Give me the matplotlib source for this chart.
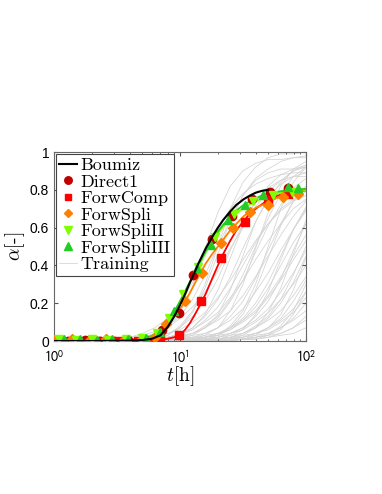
import matplotlib
matplotlib.use('Agg')
import matplotlib.pyplot as plt

plt.rcParams['font.family'] = 'Liberation Sans'
plt.rcParams['mathtext.fontset'] = 'cm'
plt.rcParams['xtick.direction'] = 'in'
plt.rcParams['ytick.direction'] = 'in'

# time grid of the simulated curves [h]
t_line = [1, 2, 3, 4, 5, 6, 7, 8, 9, 10, 11, 12, 13, 14, 16, 18, 20, 22, 25, 28, 32, 36, 40, 45, 50,
          60, 70, 80, 90, 100]

boumiz = [0, 0, 0.001, 0.002, 0.005, 0.012, 0.03, 0.075, 0.13, 0.19, 0.25, 0.31, 0.36, 0.41, 0.49,
          0.55, 0.60, 0.64, 0.685, 0.72, 0.75, 0.77, 0.785, 0.795, 0.80]
forwcomp = [0, 0, 0, 0, 0.001, 0.003, 0.006, 0.012, 0.02, 0.033, 0.06, 0.095, 0.135, 0.175, 0.25,
            0.33, 0.40, 0.46, 0.53, 0.585, 0.635, 0.675, 0.70, 0.725, 0.745, 0.77, 0.785, 0.793, 0.798, 0.80]
forwspli = [0.005, 0.005, 0.005, 0.006, 0.01, 0.02, 0.045, 0.09, 0.13, 0.17, 0.21, 0.255, 0.30, 0.34,
            0.41, 0.46, 0.50, 0.535, 0.585, 0.62, 0.66, 0.685, 0.705, 0.72, 0.735, 0.76, 0.775, 0.785,
            0.79, 0.795]
forwspli2 = [0.005, 0.005, 0.006, 0.008, 0.012, 0.025, 0.05, 0.10, 0.15, 0.21, 0.26, 0.31, 0.355,
             0.395, 0.47, 0.525, 0.57, 0.605, 0.645, 0.675, 0.705, 0.725, 0.74, 0.755, 0.765, 0.78,
             0.79, 0.795, 0.80, 0.80]
forwspli3 = [0.005, 0.005, 0.006, 0.008, 0.013, 0.028, 0.055, 0.105, 0.155, 0.21, 0.265, 0.315, 0.36,
             0.40, 0.475, 0.535, 0.58, 0.615, 0.655, 0.69, 0.72, 0.74, 0.755, 0.77, 0.78, 0.79, 0.797,
             0.80, 0.803, 0.805]

# measured / marker points
t_direct = [1.0, 1.3, 1.75, 2.3, 3.0, 3.9, 5.2, 7.2, 9.8, 12.7, 18.1, 25.7, 37.0, 52.0, 72.0]
a_direct = [0, 0, 0.005, 0, 0, 0.005, 0.01, 0.06, 0.15, 0.35, 0.54, 0.66, 0.75, 0.79, 0.81]
t_comp = [1.0, 1.5, 2.2, 3.2, 4.6, 6.9, 9.9, 14.7, 21.1, 32.7, 50.0, 72.0]
a_comp = [0, 0, 0, 0, 0.002, 0.008, 0.032, 0.21, 0.44, 0.63, 0.745, 0.78]
t_spli = [1.0, 1.4, 1.9, 2.6, 3.6, 5.0, 6.3, 7.8, 10.9, 14.9, 21.0, 26.4, 36.0, 50.0, 66.0, 86.0]
a_spli = [0.005, 0.01, 0, 0.01, 0.005, 0.01, 0.02, 0.09, 0.21, 0.36, 0.52, 0.60, 0.68, 0.72, 0.76, 0.78]
t_spli2 = [1.1, 1.5, 2.0, 2.7, 3.7, 5.0, 6.6, 8.2, 10.5, 14.0, 19.0, 27.0, 38.0, 55.0, 78.0]
a_spli2 = [0.01, 0.005, 0.01, 0.005, 0.01, 0.015, 0.04, 0.12, 0.25, 0.39, 0.55, 0.67, 0.74, 0.77, 0.79]
t_spli3 = [1.2, 1.6, 2.2, 2.9, 3.9, 5.4, 7.0, 9.0, 13.6, 17.5, 24.0, 33.0, 46.0, 72.0, 86.0]
a_spli3 = [0.01, 0.01, 0.005, 0.01, 0.01, 0.015, 0.05, 0.16, 0.385, 0.51, 0.64, 0.72, 0.77, 0.815, 0.81]

# training curves
t_train = [1, 4, 5, 6.3, 8, 10, 12.6, 15.8, 20, 25.1, 31.6, 39.8, 50.1, 63.1, 79.4, 100]
training = [
    [0, 0.01, 0.01, 0.03, 0.07, 0.15, 0.29, 0.49, 0.68, 0.82, 0.90, 0.94, 0.96, 0.96, 0.97, 0.97],
    [0, 0.01, 0.02, 0.04, 0.08, 0.13, 0.22, 0.35, 0.50, 0.64, 0.77, 0.86, 0.91, 0.95, 0.97, 0.98],
    [0, 0, 0.01, 0.01, 0.03, 0.07, 0.15, 0.28, 0.46, 0.64, 0.77, 0.85, 0.89, 0.91, 0.91, 0.92],
    [0, 0.01, 0.01, 0.02, 0.04, 0.07, 0.13, 0.21, 0.33, 0.48, 0.62, 0.74, 0.82, 0.88, 0.91, 0.93],
    [0, 0, 0, 0.01, 0.01, 0.03, 0.07, 0.14, 0.27, 0.44, 0.61, 0.74, 0.81, 0.85, 0.87, 0.87],
    [0, 0, 0.01, 0.01, 0.02, 0.04, 0.07, 0.13, 0.22, 0.34, 0.49, 0.63, 0.75, 0.84, 0.90, 0.93],
    [0, 0.01, 0.02, 0.02, 0.04, 0.06, 0.10, 0.15, 0.23, 0.32, 0.43, 0.53, 0.62, 0.70, 0.75, 0.79],
    [0, 0, 0, 0, 0.01, 0.01, 0.03, 0.07, 0.14, 0.27, 0.45, 0.63, 0.76, 0.83, 0.87, 0.89],
    [0, 0, 0, 0.01, 0.01, 0.02, 0.04, 0.07, 0.12, 0.21, 0.32, 0.47, 0.61, 0.72, 0.81, 0.86],
    [0, 0.01, 0.01, 0.02, 0.02, 0.04, 0.06, 0.10, 0.15, 0.23, 0.32, 0.43, 0.53, 0.62, 0.70, 0.75],
    [0, 0, 0, 0, 0.01, 0.01, 0.02, 0.04, 0.07, 0.13, 0.21, 0.33, 0.48, 0.62, 0.74, 0.82],
    [0, 0, 0.01, 0.01, 0.02, 0.03, 0.04, 0.07, 0.11, 0.16, 0.24, 0.34, 0.45, 0.56, 0.66, 0.74],
    [0, 0, 0, 0, 0, 0, 0.01, 0.01, 0.03, 0.07, 0.14, 0.27, 0.44, 0.61, 0.74, 0.81],
    [0, 0, 0, 0.01, 0.01, 0.02, 0.03, 0.04, 0.07, 0.11, 0.17, 0.26, 0.36, 0.48, 0.59, 0.69],
    [0, 0, 0, 0, 0, 0.01, 0.01, 0.02, 0.04, 0.07, 0.12, 0.20, 0.31, 0.45, 0.59, 0.70],
    [0, 0, 0, 0, 0, 0, 0, 0.01, 0.01, 0.03, 0.06, 0.14, 0.26, 0.43, 0.59, 0.71],
    [0, 0, 0, 0, 0, 0, 0.01, 0.01, 0.02, 0.04, 0.07, 0.13, 0.21, 0.33, 0.48, 0.62],
    [0, 0, 0, 0, 0.01, 0.01, 0.02, 0.03, 0.04, 0.07, 0.11, 0.16, 0.24, 0.34, 0.45, 0.56],
    [0, 0, 0, 0, 0, 0, 0, 0, 0.01, 0.01, 0.03, 0.07, 0.15, 0.28, 0.46, 0.64],
    [0, 0, 0, 0, 0, 0, 0, 0.01, 0.01, 0.02, 0.04, 0.07, 0.12, 0.20, 0.31, 0.45],
    [0, 0, 0, 0, 0, 0.01, 0.01, 0.02, 0.03, 0.04, 0.07, 0.11, 0.17, 0.26, 0.36, 0.48],
    [0, 0, 0, 0, 0, 0, 0, 0, 0, 0.01, 0.01, 0.03, 0.07, 0.14, 0.27, 0.44],
    [0, 0, 0, 0, 0, 0, 0.01, 0.01, 0.02, 0.03, 0.04, 0.07, 0.11, 0.16, 0.24, 0.34],
    [0, 0, 0, 0, 0, 0, 0, 0, 0.01, 0.01, 0.02, 0.04, 0.07, 0.12, 0.21, 0.32],
    [0, 0, 0, 0, 0, 0, 0, 0.01, 0.01, 0.02, 0.03, 0.04, 0.07, 0.11, 0.17, 0.26],
    [0, 0, 0, 0, 0, 0, 0, 0, 0, 0.01, 0.01, 0.02, 0.04, 0.07, 0.12, 0.20],
    [0, 0, 0, 0, 0, 0, 0, 0, 0.01, 0.01, 0.02, 0.03, 0.04, 0.07, 0.11, 0.16],
    [0, 0, 0, 0, 0, 0, 0, 0, 0, 0.01, 0.01, 0.02, 0.03, 0.04, 0.07, 0.11],
    [0, 0, 0, 0, 0, 0.01, 0.01, 0.03, 0.07, 0.16, 0.30, 0.49, 0.68, 0.82, 0.91, 0.95],
    [0, 0, 0, 0, 0, 0, 0, 0, 0, 0, 0.01, 0.01, 0.03, 0.06, 0.14, 0.26],
    [0, 0.02, 0.04, 0.07, 0.12, 0.20, 0.31, 0.45, 0.59, 0.70, 0.78, 0.83, 0.86, 0.88, 0.89, 0.89],
    [0, 0, 0, 0, 0, 0, 0, 0, 0, 0, 0.01, 0.01, 0.02, 0.03, 0.04, 0.07],
    [0, 0.02, 0.03, 0.05, 0.07, 0.12, 0.18, 0.26, 0.37, 0.49, 0.60, 0.71, 0.79, 0.85, 0.90, 0.92],
    [0, 0, 0, 0.01, 0.01, 0.02, 0.04, 0.08, 0.13, 0.22, 0.35, 0.50, 0.65, 0.78, 0.87, 0.92],
    [0, 0, 0, 0, 0, 0, 0.01, 0.02, 0.03, 0.08, 0.16, 0.30, 0.50, 0.70, 0.84, 0.92],
    [0, 0, 0, 0, 0, 0.01, 0.01, 0.02, 0.03, 0.06, 0.11, 0.18, 0.28, 0.40, 0.52, 0.62],
    [0, 0, 0, 0, 0.01, 0.01, 0.02, 0.02, 0.04, 0.06, 0.10, 0.15, 0.23, 0.32, 0.43, 0.53],
    [0, 0, 0, 0, 0, 0, 0, 0.01, 0.01, 0.02, 0.04, 0.08, 0.13, 0.22, 0.35, 0.50],
    [0, 0, 0, 0, 0, 0, 0, 0, 0, 0, 0.01, 0.02, 0.03, 0.08, 0.16, 0.30],
    [0, 0, 0, 0, 0, 0, 0, 0.01, 0.01, 0.02, 0.02, 0.04, 0.06, 0.10, 0.15, 0.23],
    [0, 0, 0, 0, 0, 0, 0, 0, 0, 0, 0.01, 0.01, 0.02, 0.04, 0.07, 0.13],
    [0, 0, 0.01, 0.01, 0.02, 0.03, 0.06, 0.11, 0.18, 0.28, 0.40, 0.52, 0.62, 0.69, 0.74, 0.77],
    [0, 0, 0.01, 0.02, 0.03, 0.08, 0.16, 0.30, 0.50, 0.70, 0.84, 0.92, 0.97, 0.99, 0.99, 1.0],
    [0, 0, 0, 0, 0, 0.01, 0.01, 0.01, 0.02, 0.04, 0.06, 0.10, 0.15, 0.22, 0.30, 0.40],
]

fig = plt.figure(figsize=(3.82, 4.94), dpi=100)
ax = fig.add_axes([0.1414, 0.3097, 0.6596, 0.3826])

gray = '#d3d3d3'
for i, curve in enumerate(training):
    ax.plot(t_train, curve, color=gray, lw=0.55, label='Training' if i == 0 else '_nolegend_', zorder=1)

ms = 6
ax.plot(t_line, forwcomp, color='#ff0000', lw=1.3, zorder=3)
ax.plot(t_line, forwspli, color='#ff8000', lw=1.3, zorder=3)
ax.plot(t_line, forwspli2, color='#80ff00', lw=1.3, zorder=3)
ax.plot(t_line, forwspli3, color='#22cc22', lw=1.3, zorder=3)
ax.plot(t_line[:len(boumiz)], boumiz, color='black', lw=1.5, zorder=6, label='Boumiz')

ax.plot(t_direct, a_direct, ls='none', marker='o', ms=ms, color='#c00000', zorder=4, label='Direct1')
ax.plot(t_comp, a_comp, ls='none', marker='s', ms=ms - 0.5, color='#ff0000', zorder=4, label='ForwComp')
ax.plot(t_spli, a_spli, ls='none', marker='D', ms=ms - 1, color='#ff8000', zorder=4, label='ForwSpli')
ax.plot(t_spli2, a_spli2, ls='none', marker='v', ms=ms, color='#80ff00', zorder=4, label='ForwSpliII')
ax.plot(t_spli3, a_spli3, ls='none', marker='^', ms=ms, color='#22cc22', zorder=4, label='ForwSpliIII')

ax.set_xscale('log')
ax.set_xlim(1, 100)
ax.set_ylim(0, 1)
ax.set_xticks([1, 10, 100], labels=['$10^0$', '$10^1$', '$10^2$'])
for lab in ax.get_xticklabels():
    lab.set_math_fontfamily('stixsans')
ax.set_yticks([0, 0.2, 0.4, 0.6, 0.8, 1], labels=['0', '0.2', '0.4', '0.6', '0.8', '1'])
ax.tick_params(axis='both', which='both', top=True, right=True, labelsize=10, color='#555555')
ax.tick_params(which='major', length=3)
ax.tick_params(which='minor', length=1.5)
ax.tick_params(axis='x', pad=6)
for s in ax.spines.values():
    s.set_color('#666666')
    s.set_linewidth(0.8)

ax.set_xlabel(r'$t[\mathrm{h}]$', fontsize=14, labelpad=-1)
ax.set_ylabel(r'$\alpha[\text{-}]$', fontsize=14, labelpad=2)

handles, labels = ax.get_legend_handles_labels()
order = ['Boumiz', 'Direct1', 'ForwComp', 'ForwSpli', 'ForwSpliII', 'ForwSpliIII', 'Training']
hl = dict(zip(labels, handles))
leg = ax.legend([hl[k] for k in order], order, loc='upper left', prop={'family': 'cmr10', 'size': 13},
                fancybox=False, framealpha=1, edgecolor='#444444', borderpad=0.2, labelspacing=0.05,
                handlelength=1.0, handletextpad=0.15, borderaxespad=0.1, markerscale=0.9)
leg.get_frame().set_linewidth(0.8)

fig.savefig('out.png', dpi=100)
